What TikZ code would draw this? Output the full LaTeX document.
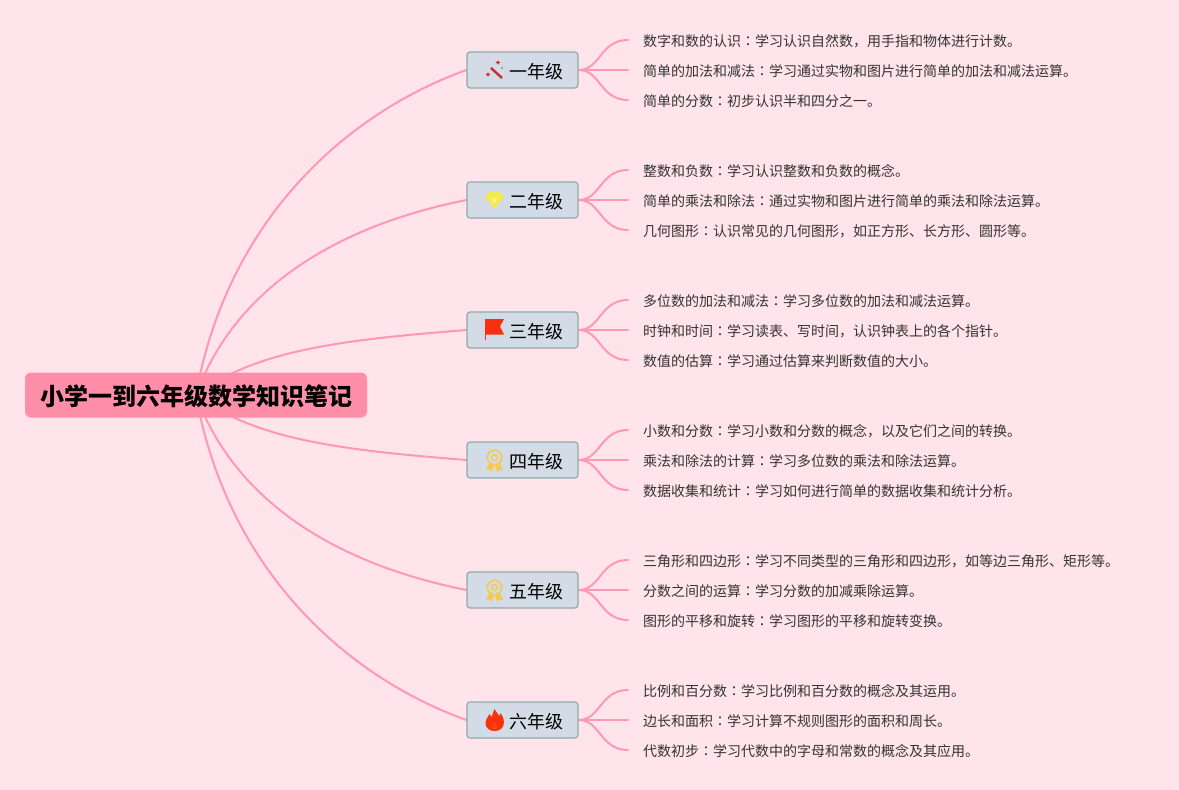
\documentclass[tikz,border=0pt]{standalone}
\usepackage{fontspec}
\setmainfont{Noto Sans CJK SC}
\newfontfamily\tcf{Noto Sans CJK TC}
\newcommand{\cln}{{\tcf ：}}
\usetikzlibrary{backgrounds}
\pgfdeclarelayer{canvas}
\pgfsetlayers{canvas,background,main}
\definecolor{bgc}{HTML}{FFE4EB}
\definecolor{linec}{HTML}{FF98B3}
\definecolor{rootc}{HTML}{FF8FA8}
\definecolor{boxc}{HTML}{D3DCE6}
\definecolor{boxb}{HTML}{8FAAA9}
\definecolor{leaft}{HTML}{333333}
\definecolor{medal}{HTML}{F5C94E}
\definecolor{fire}{HTML}{F9300F}
\definecolor{wand}{HTML}{C8301F}
\definecolor{gem}{HTML}{F4EA4E}
\tikzset{
  x=1pt,y=-1pt,
  rootbox/.style={fill=rootc,rounded corners=6pt,minimum width=342pt,minimum height=45pt,inner sep=0pt},
  gradebox/.style={draw=boxb,line width=1.2pt,fill=boxc,rounded corners=3pt,minimum width=111pt,minimum height=36pt,inner sep=0pt},
  gradetext/.style={font=\fontsize{18}{22}\selectfont,text=black,inner sep=0pt,anchor=west},
  leaf/.style={anchor=west,inner xsep=15pt,inner ysep=2pt,font=\fontsize{14}{18}\selectfont,text=leaft},
  conn/.style={draw=linec,line width=2pt,line cap=round},
  sub/.style={draw=linec,line width=2pt,line cap=round},
}
\newcommand{\medalicon}[1]{%
  \begin{scope}[shift={(#1)}]
    \draw[medal,line width=1.6pt] (0,-3.5) circle (7.2pt);
    \draw[medal,line width=1.3pt] (0,-3.5) circle (3pt);
    \fill[medal] (-5,2) -- (-8.5,9) -- (-5,8.5) -- (-3,11) -- (-0.5,5) -- cycle;
    \fill[medal] (5,2) -- (8.5,9) -- (5,8.5) -- (3,11) -- (0.5,5) -- cycle;
  \end{scope}}
\begin{document}
\begin{tikzpicture}
\useasboundingbox (0,0) rectangle (1179,790);
\begin{pgfonlayer}{canvas}
\fill[bgc] (0,0) rectangle (1179,790);
\end{pgfonlayer}

\node[rootbox] (root) at (196,395) {};
\node[font=\fontsize{24}{28}\selectfont\bfseries,inner sep=0pt,text=black] (roottext) at (196.5,396.5) {小学一到六年级数学知识笔记};

\foreach \n/\y/\t in {b1/70/一年级,b2/200/二年级,b3/330/三年级,b4/460/四年级,b5/590/五年级,b6/720/六年级}{
  \node[gradebox] (\n) at (522.5,\y) {};
  \node[gradetext] (\n t) at (509,\y+1.5) {\t};
}

\foreach \n/\y/\a/\b/\c in {
 b1/70/数字和数的认识\cln 学习认识自然数，用手指和物体进行计数。/简单的加法和减法\cln 学习通过实物和图片进行简单的加法和减法运算。/简单的分数\cln 初步认识半和四分之一。,
 b2/200/整数和负数\cln 学习认识整数和负数的概念。/简单的乘法和除法\cln 通过实物和图片进行简单的乘法和除法运算。/几何图形\cln 认识常见的几何图形，如正方形、长方形、圆形等。,
 b3/330/多位数的加法和减法\cln 学习多位数的加法和减法运算。/时钟和时间\cln 学习读表、写时间，认识钟表上的各个指针。/数值的估算\cln 学习通过估算来判断数值的大小。,
 b4/460/小数和分数\cln 学习小数和分数的概念，以及它们之间的转换。/乘法和除法的计算\cln 学习多位数的乘法和除法运算。/数据收集和统计\cln 学习如何进行简单的数据收集和统计分析。,
 b5/590/三角形和四边形\cln 学习不同类型的三角形和四边形，如等边三角形、矩形等。/分数之间的运算\cln 学习分数的加减乘除运算。/图形的平移和旋转\cln 学习图形的平移和旋转变换。,
 b6/720/比例和百分数\cln 学习比例和百分数的概念及其运用。/边长和面积\cln 学习计算不规则图形的面积和周长。/代数初步\cln 学习代数中的字母和常数的概念及其应用。}{
  \node[leaf] (\n a) at (628,\y-28.5) {\a};
  \node[leaf] (\n b) at (628,\y+1.5) {\b};
  \node[leaf] (\n c) at (628,\y+31.5) {\c};
  \coordinate (\n p) at (628,\y-30);
  \coordinate (\n q) at (628,\y);
  \coordinate (\n r) at (628,\y+30);
  \begin{scope}[on background layer]
  \draw[sub] (\n.east) .. controls +(22,0) and +(-28,0) .. (\n p);
  \draw[sub] (\n.east) -- (\n q);
  \draw[sub] (\n.east) .. controls +(22,0) and +(-28,0) .. (\n r);
  \end{scope}
}

\begin{scope}[on background layer]
\draw[conn] (root.center) .. controls +(30,-170) and +(-125,45) .. (b1.west);
\draw[conn] (root.center) .. controls +(40,-110) and +(-125,25) .. (b2.west);
\draw[conn] (root.center) .. controls +(60,-45) and +(-125,10) .. (b3.west);
\draw[conn] (root.center) .. controls +(60,45) and +(-125,-10) .. (b4.west);
\draw[conn] (root.center) .. controls +(40,110) and +(-125,-25) .. (b5.west);
\draw[conn] (root.center) .. controls +(30,170) and +(-125,-45) .. (b6.west);
\end{scope}

% icons
\begin{scope}[shift={(494,70)}]
  \draw[wand,line width=2.4pt] (-3,-2) -- (8,8);
  \fill[wand] (4,-10) -- (4.8,-8.2) -- (6.6,-7.5) -- (4.8,-6.8) -- (4,-5) -- (3.2,-6.8) -- (1.4,-7.5) -- (3.2,-8.2) -- cycle;
  \fill[wand] (-6,2) -- (-5.2,3.8) -- (-3.4,4.5) -- (-5.2,5.2) -- (-6,7) -- (-6.8,5.2) -- (-8.6,4.5) -- (-6.8,3.8) -- cycle;
  \fill[wand] (8,-2) circle (0.9pt);
\end{scope}
\begin{scope}[shift={(494.5,200)}]
  \fill[gem] (-5,-8) -- (5,-8) -- (9.5,-3) -- (0,8.5) -- (-9.5,-3) -- cycle;
  \fill[gem!60!white] (-3,-2) -- (3,-2) -- (0,3) -- cycle;
\end{scope}
\begin{scope}[shift={(485,319)}]
  \fill[fire] (0.5,0) -- (19,0) -- (15,7.5) -- (19,15.5) -- (0.5,15.5) -- cycle;
  \draw[fire,line width=1pt] (0.5,0) -- (0.5,21);
\end{scope}
\medalicon{494.5,461}
\medalicon{494.5,591}
\begin{scope}[shift={(494.5,720)}]
  \fill[fire] (0,-11) .. controls (2,-7) and (4,-6) .. (5,-4) .. controls (6,-5) and (6,-6) .. (6,-7) .. controls (9,-3) and (10,1) .. (9,5) .. controls (8,9) and (4,11) .. (0,11) .. controls (-5,11) and (-9,8) .. (-9,3) .. controls (-9,-1) and (-6,-3) .. (-5,-6) .. controls (-4,-5) and (-3.5,-4) .. (-3,-3) .. controls (-2,-6) and (-1,-8) .. (0,-11) -- cycle;
  \fill[fire!70!orange] (0,2) .. controls (2,4) and (4,6) .. (3,8) .. controls (2,10) and (-2,10) .. (-3,8) .. controls (-4,6) and (-1,4) .. (0,2) -- cycle;
\end{scope}
\end{tikzpicture}
\end{document}
